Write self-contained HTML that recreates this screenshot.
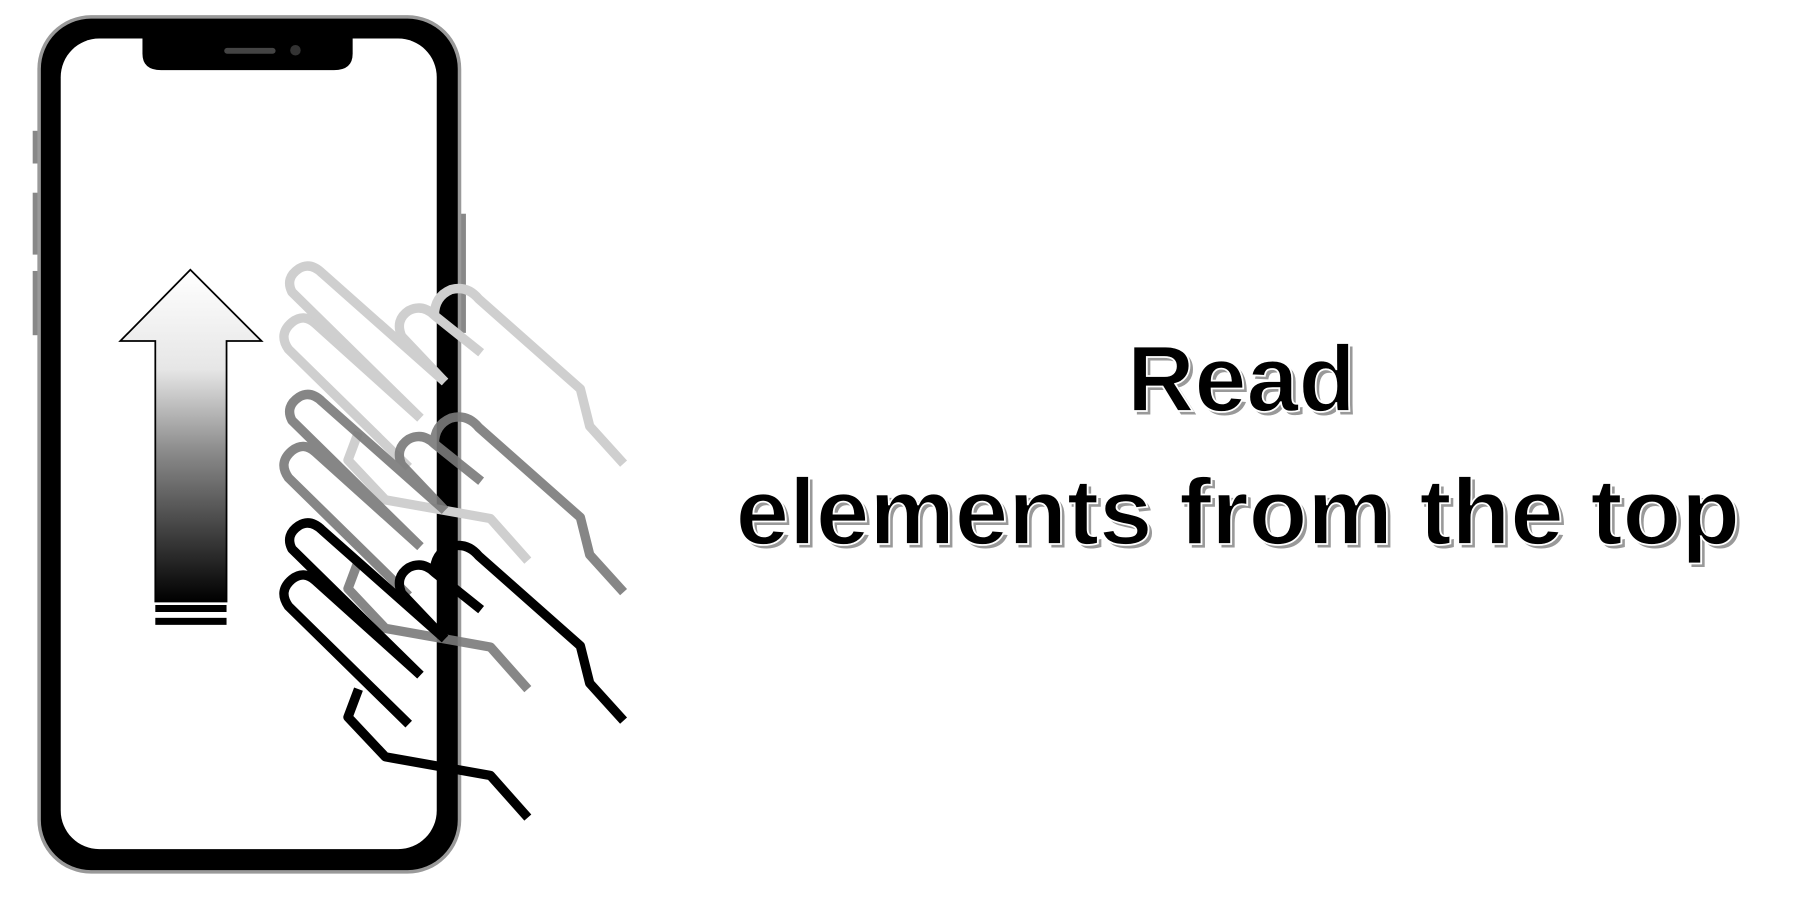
<!DOCTYPE html>
<html><head><meta charset="utf-8"><style>
html,body{margin:0;padding:0;background:#fff;width:1810px;height:918px;overflow:hidden}
svg{display:block}
text{font-family:"Liberation Sans",sans-serif;font-weight:bold}
</style></head><body>
<svg width="1810" height="918" viewBox="0 0 1550 786" preserveAspectRatio="none">
<defs>
<linearGradient id="g" x1="0" y1="0" x2="0" y2="1">
<stop offset="0" stop-color="#fff"/><stop offset="0.3" stop-color="#e6e6e6"/><stop offset="0.55" stop-color="#8a8a8a"/><stop offset="1" stop-color="#000"/>
</linearGradient>
<g id="hand">
<path d="M350 620 L247 519 Q238 506 250 496 Q260 488 270 497 L360 578" />
<path d="M360 578 L250 470 Q244 458 256 450 Q266 444 276 454 L381 547" />
<path d="M381 547 L344 508 Q338 494 350 486 Q362 480 372 490 L412 522" />
<path d="M372 490 Q372 474 386 468 Q400 464 410 476 L497 553 L505 585 L534 617" />
<path d="M307 590 L298 614 L330 648 L420 664 L452 700" />
</g>
</defs>
<g>
<rect x="28" y="112" width="6" height="28" fill="#888"/>
<rect x="28" y="165" width="6" height="53" fill="#888"/>
<rect x="28" y="232" width="6" height="55" fill="#888"/>
<rect x="393" y="183" width="6" height="102" fill="#888"/>
<rect x="32" y="13" width="363" height="735" rx="46" fill="#999"/>
<rect x="35" y="16" width="357" height="729" rx="43" fill="#000"/>
<rect x="52" y="33" width="322" height="694" rx="33" fill="#fff"/>
<path d="M122 33 L302 33 L302 46 Q302 60 286 60 L138 60 Q122 60 122 46 Z" fill="#000"/>
<rect x="192" y="41" width="44" height="5" rx="2.5" fill="#444"/>
<circle cx="253" cy="43" r="4.5" fill="#333"/>
</g>
<g>
<path d="M163 231 L224 292 L194 292 L194 515 L133 515 L133 292 L103 292 Z" fill="url(#g)" stroke="#000" stroke-width="1.5"/>
<rect x="133" y="518" width="61" height="6" fill="#000"/>
<rect x="133" y="529" width="61" height="6" fill="#000"/>
</g>
<g fill="none" stroke-width="8" stroke-linecap="butt" stroke-linejoin="round">
<use href="#hand" transform="translate(0,-220)" stroke="#cfcfcf"/>
<use href="#hand" transform="translate(0,-110)" stroke="#7a7a7a" opacity="0.9"/>
<use href="#hand" stroke="#000"/>
</g>
<g>
<text x="1066" y="355" font-size="80" text-anchor="middle" fill="#999">Read</text>
<text x="1063" y="352" font-size="80" text-anchor="middle" fill="#000" stroke="#fff" stroke-width="1.5">Read</text>
<text x="633" y="469" font-size="80" textLength="860" lengthAdjust="spacingAndGlyphs" fill="#999">elements from the top</text>
<text x="630" y="466" font-size="80" textLength="860" lengthAdjust="spacingAndGlyphs" fill="#000" stroke="#fff" stroke-width="1.5">elements from the top</text>
</g>
</svg>
</body></html>
